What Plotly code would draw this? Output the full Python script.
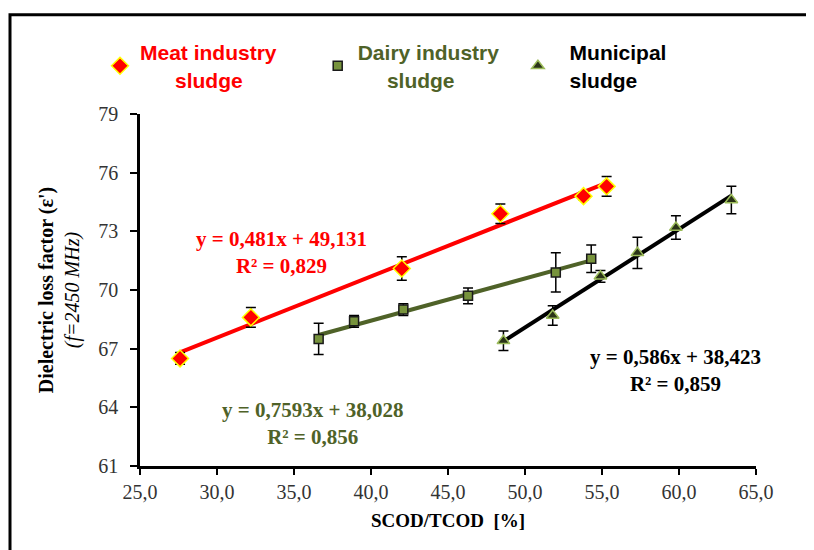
import numpy as np
import plotly.graph_objects as go

# ---- data ----
meat_x = [27.6, 32.2, 42.0, 48.4, 53.8, 55.3]
meat_y = [66.5, 68.6, 71.1, 73.9, 74.8, 75.3]
meat_err = [0.3, 0.5, 0.6, 0.5, 0.2, 0.5]

dairy_x = [36.6, 38.9, 42.1, 46.3, 52.0, 54.3]
dairy_y = [67.5, 68.4, 69.0, 69.7, 70.9, 71.6]
dairy_err = [0.8, 0.3, 0.3, 0.4, 1.0, 0.7]

muni_x = [48.6, 51.8, 54.9, 57.3, 59.8, 63.4]
muni_y = [67.4, 68.7, 70.7, 71.9, 73.2, 74.6]
muni_err = [0.5, 0.5, 0.3, 0.8, 0.6, 0.7]

x_ticks = [25, 30, 35, 40, 45, 50, 55, 60, 65]
y_ticks = [61, 64, 67, 70, 73, 76, 79]

RED = "#ff0000"
GREEN = "#4f6228"
BLACK = "#000000"

fig = go.Figure()


def trend(xs, ys, color):
    k, b = np.polyfit(xs, ys, 1)
    xx = np.array([min(xs), max(xs)])
    fig.add_trace(go.Scatter(x=xx, y=k * xx + b, mode="lines",
                             line=dict(color=color, width=4),
                             showlegend=False, hoverinfo="skip"))


trend(meat_x, meat_y, RED)
trend(dairy_x, dairy_y, GREEN)
trend(muni_x, muni_y, BLACK)

err_style = dict(type="data", thickness=1.5, width=5, color="#000000")
NB = "\u00a0"

fig.add_trace(go.Scatter(
    x=meat_x, y=meat_y, mode="markers",
    error_y=dict(array=meat_err, **err_style),
    marker=dict(symbol="diamond", size=13, color=RED,
                line=dict(color="#ffff00", width=1.5)),
    name=f"<span style='color:{RED}'><b>Meat industry<br>{NB*6}sludge</b></span>{NB*12}"))

fig.add_trace(go.Scatter(
    x=dairy_x, y=dairy_y, mode="markers",
    error_y=dict(array=dairy_err, **err_style),
    marker=dict(symbol="square", size=9, color="#77933c",
                line=dict(color="#1a1a1a", width=1.5)),
    name=f"<span style='color:{GREEN}'><b>Dairy industry<br>{NB*5}sludge</b></span>{NB*10}"))

fig.add_trace(go.Scatter(
    x=muni_x, y=muni_y, mode="markers",
    error_y=dict(array=muni_err, **err_style),
    marker=dict(symbol="triangle-up", size=11, color="#2a3318",
                line=dict(color="#9bbb59", width=1.5)),
    name=f"<span style='color:{BLACK}'><b>{NB*2}Municipal<br>{NB*2}sludge</b></span>"))

ann_font = dict(family="Liberation Serif", size=21)
anns = [
    (34.2, 71.9, "<b>y = 0,481x + 49,131<br>R² = 0,829</b>", RED),
    (36.2, 63.15, "<b>y = 0,7593x + 38,028<br>R² = 0,856</b>", GREEN),
    (59.8, 65.9, "<b>y = 0,586x + 38,423<br>R² = 0,859</b>", BLACK),
]
for ax_, ay_, txt, col in anns:
    fig.add_annotation(x=ax_, y=ay_, text=txt, showarrow=False,
                       font=dict(color=col, **ann_font), align="center")

# page has an 8px body margin; figure pixel = screen pixel - 8
W, H = 814, 550
L, T = 132, 106
pw, ph = 616, 352
R = W - L - pw
B = H - T - ph


def px(xp):
    return (xp - L) / pw


def py(yp):
    return (T + ph - yp) / ph


fig.add_shape(type="rect", xref="paper", yref="paper",
              x0=px(2), x1=px(830), y0=py(570), y1=py(6.7),
              line=dict(color="black", width=3), fillcolor="rgba(0,0,0,0)",
              layer="below")

tick_font = dict(family="Liberation Serif", size=20, color="#333333")
fig.update_layout(
    width=W, height=H,
    margin=dict(l=L, r=R, t=T, b=B),
    plot_bgcolor="white", paper_bgcolor="white",
    separators=",.",
    showlegend=True,
    legend=dict(orientation="h", x=px(92), xanchor="left",
                y=py(24), yanchor="top",
                font=dict(family="Liberation Sans", size=21),
                bgcolor="rgba(0,0,0,0)", itemclick=False),
    xaxis=dict(range=[25, 65], tickvals=x_ticks, tickformat=".1f",
               showgrid=False, zeroline=False,
               showline=True, linecolor="black", linewidth=2.5,
               ticks="outside", ticklen=6, tickwidth=2, tickcolor="black",
               tickfont=tick_font,
               title=dict(text="<b>SCOD/TCOD  [%]</b>", standoff=12,
                          font=dict(family="Liberation Serif", size=19, color="black"))),
    yaxis=dict(range=[61, 79], tickvals=y_ticks,
               showgrid=False, zeroline=False,
               showline=True, linecolor="black", linewidth=2.5,
               ticks="outside", ticklen=7, tickwidth=2, tickcolor="black",
               ticklabelstandoff=8,
               tickfont=tick_font,
               title=dict(text="<b>Dielectric loss factor (ε')</b><br><i>(f=2450 MHz)</i>",
                          standoff=14,
                          font=dict(family="Liberation Serif", size=20, color="black"))),
)

fig.write_html("out.html")
